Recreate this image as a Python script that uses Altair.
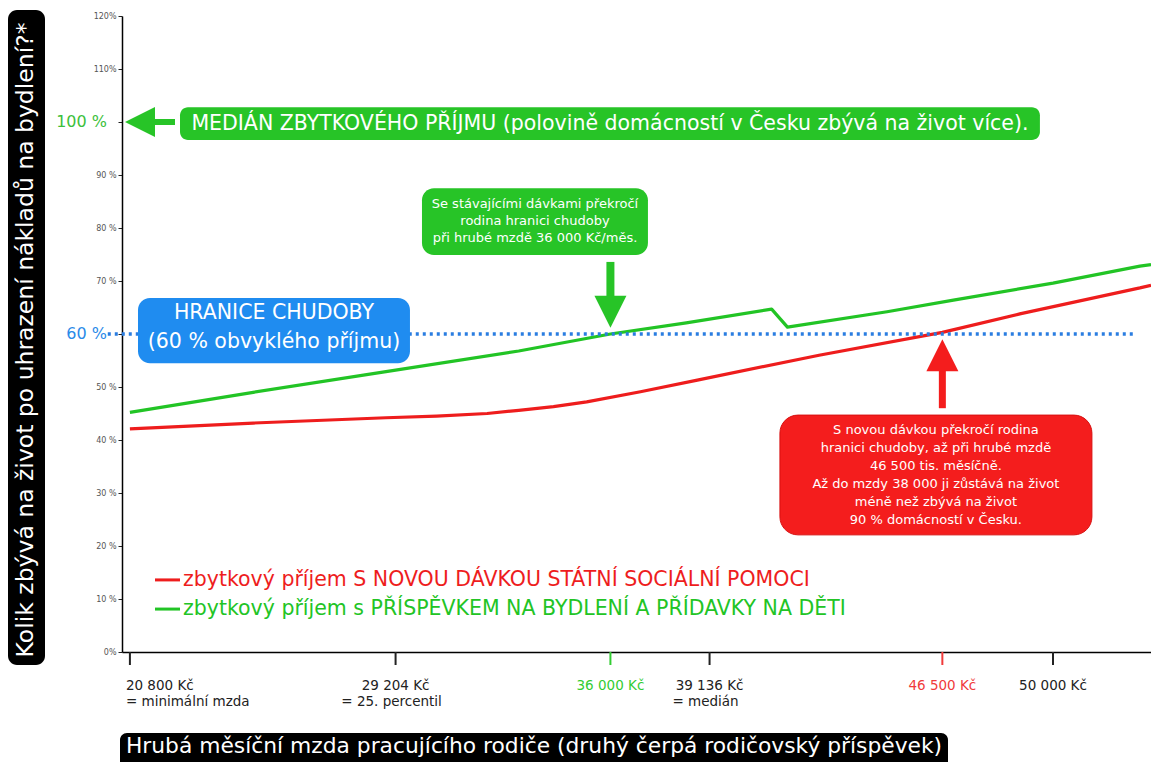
import altair as alt
import pandas as pd

FONT = "DejaVu Sans"

# ---------------- data ----------------
# gross monthly wage (Kč) -> residual income after housing costs (% of median)
red_wage = [20800, 24700, 28900, 30500, 32100, 33100, 34200, 35250, 36950, 38750, 42600, 46500, 48950,
            52750, 53100]
red_pct = [42.1, 43.2, 44.2, 44.5, 45.0, 45.6, 46.3, 47.2, 49.1, 51.3, 56.0, 60.3, 63.8, 68.7, 69.2]

green_wage = [20800, 24700, 28900, 33100, 36000, 38400, 41100, 41600, 44750, 46850, 50000, 52750, 53100]
green_pct = [45.2, 49.0, 52.9, 56.8, 60.0, 62.1, 64.7, 61.3, 64.2, 66.4, 69.6, 72.8, 73.1]

series_names = [
    "zbytkový příjem S NOVOU DÁVKOU STÁTNÍ SOCIÁLNÍ POMOCI",
    "zbytkový příjem s PŘÍSPĚVKEM NA BYDLENÍ A PŘÍDAVKY NA DĚTI",
]
series_colors = ["#ee1d1d", "#22c425"]

tick_wage = [20800, 29204, 36000, 39136, 46500, 50000]
tick_text = ["20 800 Kč", "29 204 Kč", "36 000 Kč", "39 136 Kč", "46 500 Kč", "50 000 Kč"]
tick_note = ["= minimální mzda", "= 25. percentil", "", "= medián", "", ""]
tick_colors = ["#222222", "#222222", "#33cc33", "#222222", "#f03a3a", "#222222"]

y_ticks = [0, 10, 20, 30, 40, 50, 60, 70, 80, 90, 100, 110, 120]
poverty_pct = 60
median_pct = 100
green_cross_wage = 36000
red_cross_wage = 46500

# ---------------- scales & shared axes ----------------
xs = alt.Scale(domain=[20550, 53100], nice=False, zero=False)
ys = alt.Scale(domain=[0, 120], nice=False, zero=False)

xaxis = alt.Axis(labels=False, ticks=False, grid=False, title=None,
                 domainColor="black", domainWidth=1.5)
yaxis = alt.Axis(values=y_ticks, grid=False, title=None,
                 domainColor="black", domainWidth=1.5,
                 tickColor="#222", tickSize=4, tickWidth=1,
                 labelFont=FONT, labelFontSize=8, labelColor="#555",
                 labelPadding=2,
                 labelExpr="datum.value == 60 || datum.value == 100 ? '' : "
                           "(datum.value >= 110 || datum.value == 0 ? datum.value + '%' : datum.value + ' %')")


def X(f="x"):
    return alt.X(f"{f}:Q", scale=xs, axis=xaxis)


def Y(f="y"):
    return alt.Y(f"{f}:Q", scale=ys, axis=yaxis)


series_color = alt.Color("series:N", scale=alt.Scale(domain=series_names, range=series_colors),
                         legend=None)

# ---------------- lines ----------------
lines_df = pd.DataFrame({
    "x": red_wage + green_wage,
    "y": red_pct + green_pct,
    "series": [series_names[0]] * len(red_wage) + [series_names[1]] * len(green_wage),
    "ord": list(range(len(red_wage))) + list(range(len(green_wage))),
})

lines = alt.Chart(lines_df).mark_line(strokeWidth=3.2, strokeJoin="round").encode(
    x=X(), y=Y(), color=series_color, order="ord:Q", detail="series:N",
)

# poverty line (dotted)
pov_df = pd.DataFrame({"x": [20100], "x2": [52600], "y": [poverty_pct]})
pov = alt.Chart(pov_df).mark_rule(strokeDash=[3, 4], strokeWidth=3.5, color="#2a7de1",
                                   strokeCap="butt").encode(x=X(), x2="x2:Q", y=Y())


# ---------------- annotation boxes ----------------
def box(x, x2, y, y2, color, radius, stroke=None):
    df = pd.DataFrame({"x": [x], "x2": [x2], "y": [y], "y2": [y2]})
    kw = dict(color=color, cornerRadius=radius)
    if stroke:
        kw.update(stroke=stroke, strokeWidth=1)
    return alt.Chart(df).mark_rect(**kw).encode(x=X(), x2="x2:Q", y=Y(), y2="y2:Q")


box_median = box(22385, 49586, 96.6, 102.8, "#27c427", 8)
box_green = box(30039, 37187, 74.9, 87.5, "#27c427", 12)
box_blue = box(21056, 29659, 54.5, 66.8, "#1f8cf0", 12)
box_red = box(41362, 51231, 22.1, 44.7, "#f41d1d", 18, stroke="#d81010")


def texts(xv, yv, lines_, size, color="white", align="center"):
    df = pd.DataFrame({"x": [xv] * len(lines_), "y": yv, "t": lines_})
    return alt.Chart(df).mark_text(font=FONT, fontSize=size, color=color, align=align,
                                   baseline="middle").encode(x=X(), y=Y(), text="t:N")


t_median = texts(35985, [99.7],
                 ["MEDIÁN ZBYTKOVÉHO PŘÍJMU (polovině domácností v Česku zbývá na život více)."], 20.5)
t_green = texts(33613, [84.5, 81.3, 78.1],
                ["Se stávajícími dávkami překročí", "rodina hranici chudoby",
                 "při hrubé mzdě 36 000 Kč/měs."], 13)
t_blue = texts(25358, [64.0, 58.5], ["HRANICE CHUDOBY", "(60 % obvyklého příjmu)"], 20.5)
t_red = texts(46296, [41.9, 38.5, 35.1, 31.7, 28.3, 24.9],
              ["S novou dávkou překročí rodina", "hranici chudoby, až při hrubé mzdě",
               "46 500 tis. měsíčně.", "Až do mzdy 38 000 ji zůstává na život",
               "méně než zbývá na život", "90 % domácností v Česku."], 13)


# ---------------- arrows ----------------
def shaft(x, x2, y, y2, color, w):
    df = pd.DataFrame({"x": [x], "x2": [x2], "y": [y], "y2": [y2]})
    return alt.Chart(df).mark_rule(color=color, strokeWidth=w, strokeCap="butt").encode(
        x=X(), x2="x2:Q", y=Y(), y2="y2:Q")


def head(x, y, path, color, size):
    df = pd.DataFrame({"x": [x], "y": [y]})
    return alt.Chart(df).mark_point(shape=path, filled=True, color=color, opacity=1,
                                    size=size, strokeWidth=0).encode(x=X(), y=Y())


arr_median = shaft(21436, 22226, median_pct, median_pct, "#27c427", 6) + \
    head(21119, median_pct, "M-1,0L1,-1L1,1Z", "#27c427", 900)
arr_green = shaft(green_cross_wage, green_cross_wage, 73.6, 66.0, "#27c427", 8) + \
    head(green_cross_wage, 64.2, "M-1,-1L1,-1L0,1Z", "#27c427", 1024)
arr_red = shaft(red_cross_wage, red_cross_wage, 53.2, 46.0, "#f41d1d", 7) + \
    head(red_cross_wage, 56.0, "M-1,1L1,1L0,-1Z", "#f41d1d", 1024)

# ---------------- legend (drawn) ----------------
leg_df = pd.DataFrame({"x": [21594, 21594], "x2": [22385, 22385], "y": [13.6, 8.1],
                       "series": series_names, "tx": [22479, 22479]})
leg_lines = alt.Chart(leg_df).mark_rule(strokeWidth=3).encode(
    x=X(), x2="x2:Q", y=Y(), color=series_color)
leg_text = alt.Chart(leg_df).mark_text(font=FONT, fontSize=20.5, align="left", baseline="middle").encode(
    x=X("tx"), y=Y(), text="series:N", color=series_color)

# big y labels
big_y = pd.DataFrame({"y": [median_pct, poverty_pct], "t": ["100 %", "60 %"],
                      "c": ["#3cbf3c", "#2a8ae8"]})
big_y_text = alt.Chart(big_y).mark_text(font=FONT, fontSize=16, align="right", baseline="middle").encode(
    x=alt.value(-15), y=Y(), text="t:N", color=alt.Color("c:N", scale=None))

# ---------------- x ticks & labels ----------------
tk = pd.DataFrame({"x": tick_wage, "t": tick_text, "n": tick_note, "c": tick_colors})
tick_rules = alt.Chart(tk).mark_rule(strokeWidth=2).encode(
    x=X(), y=alt.value(636), y2=alt.value(649), color=alt.Color("c:N", scale=None))
tk_first = tk.iloc[:1]
tk_rest = tk.iloc[1:]
LFS = 13.5
lab1_first = alt.Chart(tk_first).mark_text(font=FONT, fontSize=LFS, align="left", dx=-4,
                                           baseline="middle").encode(
    x=X(), y=alt.value(670), text="t:N", color=alt.Color("c:N", scale=None))
lab2_first = alt.Chart(tk_first).mark_text(font=FONT, fontSize=LFS, align="left", dx=-4,
                                           baseline="middle").encode(
    x=X(), y=alt.value(686), text="n:N", color=alt.value("#222"))
lab1_rest = alt.Chart(tk_rest).mark_text(font=FONT, fontSize=LFS, align="center",
                                         baseline="middle").encode(
    x=X(), y=alt.value(670), text="t:N", color=alt.Color("c:N", scale=None))
lab2_rest = alt.Chart(tk_rest).mark_text(font=FONT, fontSize=LFS, align="center", dx=-4,
                                         baseline="middle").encode(
    x=X(), y=alt.value(686), text="n:N", color=alt.value("#222"))

# ---------------- axis titles (black boxes) ----------------
one = pd.DataFrame({"a": [0]})
ytitle_box = alt.Chart(one).mark_rect(color="black", cornerRadius=9).encode(
    x=alt.value(-114), x2=alt.value(-77), y=alt.value(-6), y2=alt.value(649))
ytitle = alt.Chart(one).mark_text(font=FONT, fontSize=23.5, color="white", angle=270,
                                  align="center", baseline="middle").encode(
    x=alt.value(-96), y=alt.value(324),
    text=alt.value("Kolik zbývá na život po uhrazení nákladů na bydlení?*"))
xtitle_box = alt.Chart(one).mark_rect(color="black", cornerRadius=7).encode(
    x=alt.value(-2), x2=alt.value(826), y=alt.value(717), y2=alt.value(768))
xtitle = alt.Chart(one).mark_text(font=FONT, fontSize=21.8, color="white",
                                  align="center", baseline="middle").encode(
    x=alt.value(412), y=alt.value(730),
    text=alt.value("Hrubá měsíční mzda pracujícího rodiče (druhý čerpá rodičovský příspěvek)"))

chart = alt.layer(
    lines, pov, box_blue, box_median, box_green, box_red,
    arr_median, arr_green, arr_red,
    t_median, t_green, t_blue, t_red,
    leg_lines, leg_text, big_y_text,
    tick_rules, lab1_first, lab2_first, lab1_rest, lab2_rest,
    ytitle_box, ytitle, xtitle_box, xtitle,
).properties(
    width=1029, height=636,
    padding={"left": 114, "top": 8, "right": 0, "bottom": 110},
    autosize=alt.AutoSizeParams(type="none"),
    background="white",
).configure_view(stroke=None)

chart.save("out.html", embed_options={"renderer": "svg", "actions": False})
